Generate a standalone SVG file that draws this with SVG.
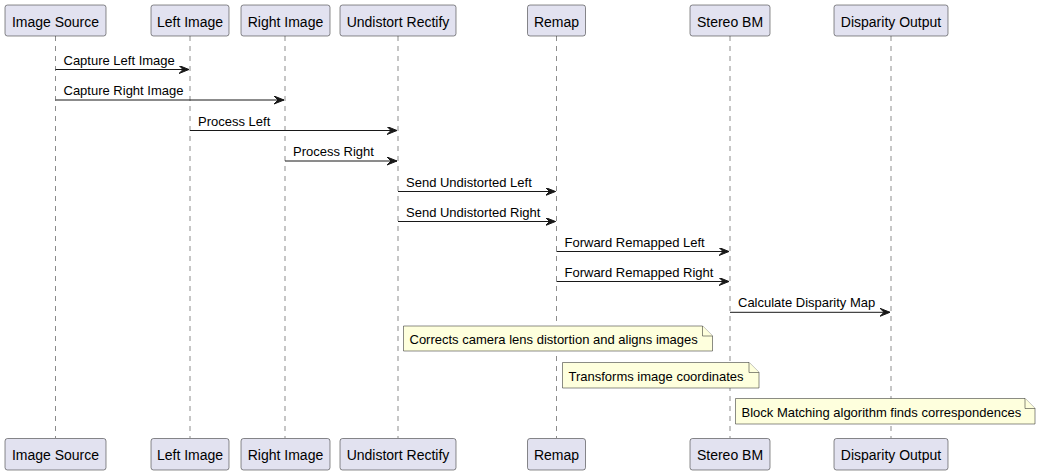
<svg xmlns="http://www.w3.org/2000/svg" width="1041" height="475" viewBox="0 0 1041 475">
<defs>
<style>
.life{stroke:#181818;stroke-width:0.5;stroke-dasharray:5,5;fill:none}
.box{fill:#E2E2F0;stroke:#181818;stroke-width:0.5}
.pt{font-family:"Liberation Sans",Arial,sans-serif;font-size:14px;fill:#000;text-anchor:middle}
.msg{stroke:#181818;stroke-width:1;fill:none}
.mt{font-family:"Liberation Sans",Arial,sans-serif;font-size:13px;fill:#000}
.note{fill:#FEFFDD;stroke:#181818;stroke-width:0.5}
</style>
<marker id="ah" markerUnits="userSpaceOnUse" markerWidth="12" markerHeight="10" refX="10" refY="4" orient="auto" viewBox="0 0 12 10">
<polygon points="0,0 10,4 0,8 4,4" fill="#181818" stroke="#181818" stroke-width="1"/>
</marker>
</defs>
<rect width="1041" height="475" fill="#FFFFFF"/>
<g id="lifelines">
<line class="life" x1="55.5" y1="36" x2="55.5" y2="438"/>
<line class="life" x1="190" y1="36" x2="190" y2="438"/>
<line class="life" x1="285" y1="36" x2="285" y2="438"/>
<line class="life" x1="398" y1="36" x2="398" y2="438"/>
<line class="life" x1="556.5" y1="36" x2="556.5" y2="438"/>
<line class="life" x1="730" y1="36" x2="730" y2="438"/>
<line class="life" x1="891" y1="36" x2="891" y2="438"/>
</g>
<g id="p-image-source">
<rect class="box" x="5" y="5" width="101" height="31" rx="2.5"/>
<text class="pt" x="55.5" y="26.5">Image Source</text>
<rect class="box" x="5" y="438.5" width="101" height="31.5" rx="2.5"/>
<text class="pt" x="55.5" y="460">Image Source</text>
</g>
<g id="p-left-image">
<rect class="box" x="151" y="5" width="78" height="31" rx="2.5"/>
<text class="pt" x="190" y="26.5">Left Image</text>
<rect class="box" x="151" y="438.5" width="78" height="31.5" rx="2.5"/>
<text class="pt" x="190" y="460">Left Image</text>
</g>
<g id="p-right-image">
<rect class="box" x="241" y="5" width="89" height="31" rx="2.5"/>
<text class="pt" x="285.5" y="26.5">Right Image</text>
<rect class="box" x="241" y="438.5" width="89" height="31.5" rx="2.5"/>
<text class="pt" x="285.5" y="460">Right Image</text>
</g>
<g id="p-undistort-rectify">
<rect class="box" x="340" y="5" width="116" height="31" rx="2.5"/>
<text class="pt" x="398" y="26.5">Undistort Rectify</text>
<rect class="box" x="340" y="438.5" width="116" height="31.5" rx="2.5"/>
<text class="pt" x="398" y="460">Undistort Rectify</text>
</g>
<g id="p-remap">
<rect class="box" x="527.5" y="5" width="58" height="31" rx="2.5"/>
<text class="pt" x="556.5" y="26.5">Remap</text>
<rect class="box" x="527.5" y="438.5" width="58" height="31.5" rx="2.5"/>
<text class="pt" x="556.5" y="460">Remap</text>
</g>
<g id="p-stereo-bm">
<rect class="box" x="690" y="5" width="80" height="31" rx="2.5"/>
<text class="pt" x="730" y="26.5">Stereo BM</text>
<rect class="box" x="690" y="438.5" width="80" height="31.5" rx="2.5"/>
<text class="pt" x="730" y="460">Stereo BM</text>
</g>
<g id="p-disparity-output">
<rect class="box" x="834" y="5" width="114" height="31" rx="2.5"/>
<text class="pt" x="891" y="26.5">Disparity Output</text>
<rect class="box" x="834" y="438.5" width="114" height="31.5" rx="2.5"/>
<text class="pt" x="891" y="460">Disparity Output</text>
</g>
<g id="connectors">
<line class="msg" x1="55.5" y1="69.5" x2="189" y2="69.5" marker-end="url(#ah)"/>
<text class="mt" x="63.5" y="64.5">Capture Left Image</text>
<line class="msg" x1="55.5" y1="100" x2="284" y2="100" marker-end="url(#ah)"/>
<text class="mt" x="63.5" y="95">Capture Right Image</text>
<line class="msg" x1="190" y1="130.5" x2="397" y2="130.5" marker-end="url(#ah)"/>
<text class="mt" x="198" y="125.5">Process Left</text>
<line class="msg" x1="285" y1="161" x2="397" y2="161" marker-end="url(#ah)"/>
<text class="mt" x="293" y="156">Process Right</text>
<line class="msg" x1="398" y1="191.5" x2="555.5" y2="191.5" marker-end="url(#ah)"/>
<text class="mt" x="406" y="186.5">Send Undistorted Left</text>
<line class="msg" x1="398" y1="221.5" x2="555.5" y2="221.5" marker-end="url(#ah)"/>
<text class="mt" x="406" y="216.5">Send Undistorted Right</text>
<line class="msg" x1="556.5" y1="251.5" x2="729" y2="251.5" marker-end="url(#ah)"/>
<text class="mt" x="564.5" y="246.5">Forward Remapped Left</text>
<line class="msg" x1="556.5" y1="281.5" x2="729" y2="281.5" marker-end="url(#ah)"/>
<text class="mt" x="564.5" y="276.5">Forward Remapped Right</text>
<line class="msg" x1="730" y1="312.3" x2="890" y2="312.3" marker-end="url(#ah)"/>
<text class="mt" x="738" y="307.3">Calculate Disparity Map</text>
</g>
<g id="note-undistort">
<path class="note" d="M403.5,326 L702.5,326 L712.5,336 L712.5,351 L403.5,351 Z"/>
<path class="note" d="M702.5,326 L702.5,336 L712.5,336"/>
<text class="mt" x="409.5" y="343.5">Corrects camera lens distortion and aligns images</text>
</g>
<g id="note-remap">
<path class="note" d="M562.5,362.5 L749,362.5 L759,372.5 L759,388 L562.5,388 Z"/>
<path class="note" d="M749,362.5 L749,372.5 L759,372.5"/>
<text class="mt" x="568.5" y="380.5">Transforms image coordinates</text>
</g>
<g id="note-stereo">
<path class="note" d="M735.5,398.5 L1025,398.5 L1035,408.5 L1035,424 L735.5,424 Z"/>
<path class="note" d="M1025,398.5 L1025,408.5 L1035,408.5"/>
<text class="mt" x="741.5" y="416.5">Block Matching algorithm finds correspondences</text>
</g>
</svg>
